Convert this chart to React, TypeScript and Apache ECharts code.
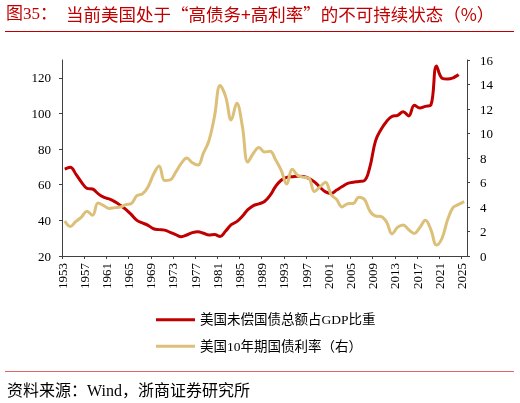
import React, { useEffect, useRef } from 'react';
import * as echarts from 'echarts';

const YEARS: number[] = [
  1953, 1954, 1955, 1956, 1957, 1958, 1959, 1960, 1961, 1962, 1963, 1964, 1965, 1966, 1967, 1968, 1969,
  1970, 1971, 1972, 1973, 1974, 1975, 1976, 1977, 1978, 1979, 1980, 1981, 1982, 1983, 1984, 1985, 1986,
  1987, 1988, 1989, 1990, 1991, 1992, 1993, 1994, 1995, 1996, 1997, 1998, 1999, 2000, 2001, 2002, 2003,
  2004, 2005, 2006, 2007, 2008, 2009, 2010, 2011, 2012, 2013, 2014, 2015, 2016, 2017, 2018, 2019, 2020,
  2021, 2022, 2023, 2024, 2025,
];

// 美国未偿国债总额占GDP比重 (%), 1953-2024
const DEBT_GDP: number[] = [
  68.8, 69.8, 66.0, 61.5, 58.0, 57.6, 55.0, 53.0, 52.0, 50.5, 48.5, 46.2, 43.2, 40.0, 38.6, 37.2, 35.3,
  34.8, 34.5, 33.3, 32.0, 30.8, 31.8, 33.1, 33.6, 32.8, 31.8, 32.0, 31.0, 34.0, 37.6, 39.3, 42.3, 46.0,
  48.3, 49.3, 50.6, 54.0, 59.0, 62.5, 64.1, 64.5, 64.8, 64.6, 63.6, 61.6, 58.6, 56.0, 55.1, 57.0, 59.0,
  60.8, 61.4, 61.8, 62.3, 70.0, 84.5, 91.0, 95.5, 98.4, 98.9, 101.0, 98.6, 104.6, 103.1, 104.0, 104.8, 126.6,
  119.8, 119.3, 120.0, 121.8,
];

// 美国10年期国债利率 (%), 1953-2025
const YIELD_10Y: number[] = [
  2.85, 2.4, 2.82, 3.18, 3.65, 3.32, 4.33, 4.12, 3.88, 3.95, 4.0, 4.19, 4.28, 4.93, 5.07, 5.64, 6.67,
  7.35, 6.16, 6.21, 6.85, 7.56, 7.99, 7.61, 7.42, 8.41, 9.43, 11.43, 13.92, 13.01, 11.1, 12.46, 10.62, 7.67,
  8.39, 8.85, 8.49, 8.55, 7.86, 7.01, 5.87, 7.09, 6.57, 6.44, 6.35, 5.26, 5.65, 6.03, 5.02, 4.61, 4.01,
  4.27, 4.29, 4.8, 4.63, 3.66, 3.26, 3.22, 2.78, 1.8, 2.35, 2.54, 2.14, 1.84, 2.33, 2.91, 2.14, 0.89,
  1.45, 2.95, 3.96, 4.21, 4.43,
];

const X_TICKS: number[] = [1953, 1957, 1961, 1965, 1969, 1973, 1977, 1981, 1985, 1989, 1993, 1997, 2001, 2005, 2009, 2013, 2017, 2021, 2025];
const LEFT_TICKS: number[] = [20, 40, 60, 80, 100, 120];
const RIGHT_TICKS: number[] = [0, 2, 4, 6, 8, 10, 12, 14, 16];

const TITLE_PREFIX = '图35：';
const TITLE = '当前美国处于“高债务+高利率”的不可持续状态（%）';
const SERIES_NAMES = ['美国未偿国债总额占GDP比重', '美国10年期国债利率（右）'];
const SOURCE = '资料来源：Wind，浙商证券研究所';

const RED = '#C00000';
const GOLD = '#DCBF78';
const AXIS = '#404040';
const FONT = '"Liberation Serif", "Times New Roman", "Noto Sans CJK SC", serif';
const CJK_FONT = '"Noto Sans CJK SC", sans-serif';

export default function App() {
  const ref = useRef<HTMLDivElement>(null);
  useEffect(() => {
    if (!ref.current) return;
    const chart = echarts.init(ref.current, undefined, { renderer: 'svg' });
    const axisLabelBase = { color: '#000', fontSize: 13, fontFamily: FONT, formatter: (v: number) => String(v) };
    chart.setOption({
      animation: false,
      grid: { left: 62, right: 53, top: 60, bottom: 147 },
      legend: {
        orient: 'vertical',
        left: 151,
        top: 308,
        icon: 'rect',
        itemWidth: 39,
        itemHeight: 3,
        itemGap: 13,
        textStyle: { color: '#000', fontSize: 13.5, fontFamily: FONT },
        data: SERIES_NAMES,
      },
      xAxis: {
        type: 'value',
        min: 1953,
        max: 2026,
        interval: 4,
        axisLine: { show: true, onZero: false, lineStyle: { color: AXIS, width: 1 } },
        axisTick: { show: true, length: 3, lineStyle: { color: AXIS }, customValues: X_TICKS },
        splitLine: { show: false },
        axisLabel: {
          ...axisLabelBase,
          rotate: 90,
          margin: 7,
          customValues: X_TICKS,
        },
      },
      yAxis: [
        {
          type: 'value',
          position: 'left',
          min: 20,
          max: 130,
          interval: 20,
          axisLine: { show: true, lineStyle: { color: AXIS, width: 1 } },
          axisTick: { show: true, length: 3, lineStyle: { color: AXIS }, customValues: LEFT_TICKS },
          splitLine: { show: false },
          axisLabel: { ...axisLabelBase, margin: 11, customValues: LEFT_TICKS },
        },
        {
          type: 'value',
          position: 'right',
          min: 0,
          max: 16,
          interval: 2,
          axisLine: { show: true, lineStyle: { color: AXIS, width: 1 } },
          axisTick: { show: true, length: 3, lineStyle: { color: AXIS }, customValues: RIGHT_TICKS },
          splitLine: { show: false },
          axisLabel: { ...axisLabelBase, margin: 13, customValues: RIGHT_TICKS },
        },
      ],
      series: [
        {
          name: SERIES_NAMES[0],
          type: 'line',
          yAxisIndex: 0,
          data: DEBT_GDP.map((v, i) => [YEARS[i] + 0.5, v]),
          smooth: 0.4,
          symbol: 'none',
          lineStyle: { color: RED, width: 3 },
          itemStyle: { color: RED },
        },
        {
          name: SERIES_NAMES[1],
          type: 'line',
          yAxisIndex: 1,
          data: YIELD_10Y.map((v, i) => [YEARS[i] + 0.5, v]),
          smooth: 0.4,
          symbol: 'none',
          lineStyle: { color: GOLD, width: 3 },
          itemStyle: { color: GOLD },
        },
      ],
      graphic: [
        {
          type: 'text',
          left: 6,
          top: 5,
          style: { text: TITLE_PREFIX, fill: RED, fontSize: 17, fontFamily: FONT },
        },
        {
          type: 'text',
          left: 66,
          top: 5,
          style: { text: TITLE, fill: RED, fontSize: 17.5, fontFamily: CJK_FONT },
        },
        {
          type: 'line',
          shape: { x1: 5, y1: 31.5, x2: 514, y2: 31.5 },
          style: { stroke: RED, lineWidth: 1 },
        },
        {
          type: 'line',
          shape: { x1: 5, y1: 371.5, x2: 514, y2: 371.5 },
          style: { stroke: '#E06666', lineWidth: 1 },
        },
        {
          type: 'text',
          left: 7,
          top: 382,
          style: { text: SOURCE, fill: '#000', fontSize: 16, fontFamily: FONT },
        },
      ],
    });
    return () => chart.dispose();
  }, []);
  return <div ref={ref} style={{ position: 'fixed', left: 0, top: 0, width: 520, height: 403 }} />;
}
